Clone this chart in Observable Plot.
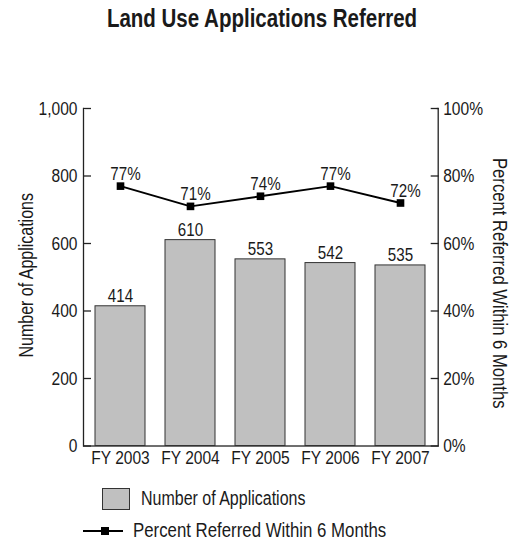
<!DOCTYPE html>
<html>
<head>
<meta charset="utf-8">
<script src="https://cdn.jsdelivr.net/npm/d3@7"></script>
<script src="https://cdn.jsdelivr.net/npm/@observablehq/plot@0.6"></script>
<style>
  html, body { margin: 0; padding: 0; background: #fff; }
  #wrap { position: relative; width: 515px; height: 544px; font-family: "Liberation Sans", Arial, sans-serif; color: #1a1a1a; }
  #title { position: absolute; left: 0; width: 524px; top: 4px; text-align: center; font-weight: bold; font-size: 25px; transform: scaleX(0.82); transform-origin: 262px 0; }
  .leg { position: absolute; font-size: 19.5px; white-space: nowrap; }
  .narrow { transform: scaleX(0.82); transform-origin: 0 0; }
</style>
</head>
<body>
<div id="wrap">
  <div id="title">Land Use Applications Referred</div>
  <div id="chart"></div>
  <div class="leg" style="left:102px; top:488px; width:26px; height:20px; background:#c0c0c0; border:1px solid #333;"></div>
  <div class="leg narrow" style="left:141px; top:487px;">Number of Applications</div>
  <svg class="leg" style="left:80px; top:522px;" width="50" height="20">
    <line x1="3" x2="43" y1="9" y2="9" stroke="#000" stroke-width="2"></line>
    <rect x="21" y="5" width="8" height="8" fill="#000"></rect>
  </svg>
  <div class="leg narrow" style="left:133px; top:518px; font-size:20.5px;">Percent Referred Within 6 Months</div>
</div>
<script>
const years = ["FY 2003", "FY 2004", "FY 2005", "FY 2006", "FY 2007"];
const applications = [414, 610, 553, 542, 535];
const percentReferred = [77, 71, 74, 77, 72];
const leftTicks = [0, 200, 400, 600, 800, 1000];
const rightTicks = [0, 20, 40, 60, 80, 100];

const data = years.map((y, i) => ({year: y, apps: applications[i], pct: percentReferred[i]}));

const chart = Plot.plot({
  width: 515,
  height: 544,
  marginTop: 108,
  marginBottom: 98.5,
  marginLeft: 83,
  marginRight: 77.3,
  style: {fontFamily: '"Liberation Sans", Arial, sans-serif', fontSize: "19px", color: "#1a1a1a", background: "transparent"},
  x: {domain: years, paddingInner: 0.282, paddingOuter: 0.141, label: null},
  y: {domain: [0, 1000], label: null},
  marks: [
    Plot.frame({stroke: "#222", strokeWidth: 1.3}),
    Plot.ruleY([1000], {stroke: "#fff", strokeWidth: 3, insetLeft: 1, insetRight: 1}),
    Plot.barY(data, {x: "year", y: "apps", fill: "#c0c0c0", stroke: "#333", strokeWidth: 1}),
    Plot.text(data, {x: "year", y: "apps", text: d => String(d.apps), lineAnchor: "bottom", dy: -4, fontSize: 18.5, fill: "#1a1a1a"}),
    Plot.line(data, {x: "year", y: d => d.pct * 10, stroke: "#000", strokeWidth: 2}),
    Plot.dot(data, {x: "year", y: d => d.pct * 10, symbol: "square", r: 4.3, fill: "#000", stroke: null}),
    Plot.text(data, {x: "year", y: d => d.pct * 10, text: d => d.pct + "%", lineAnchor: "bottom", dy: -6, dx: 5, fontSize: 18.5, fill: "#1a1a1a"}),
    Plot.axisY({anchor: "left", ticks: leftTicks, tickSize: -8, tickPadding: 14, tickFormat: d3.format(","), stroke: "#222", strokeWidth: 1.3, label: null}),
    Plot.axisY({anchor: "right", ticks: leftTicks, tickSize: -8, tickPadding: 13, tickFormat: d => rightTicks[leftTicks.indexOf(d)] + "%", stroke: "#222", strokeWidth: 1.3, label: null}),
    Plot.axisX({tickSize: 0, tickPadding: 5, label: null}),
    Plot.text(["Number of Applications"], {frameAnchor: "left", textAnchor: "middle", text: d => d, rotate: -90, dx: -57, dy: -2, fontSize: 19.5, fill: "#1a1a1a"}),
    Plot.text(["Percent Referred Within 6 Months"], {frameAnchor: "right", textAnchor: "middle", text: d => d, rotate: 90, dx: 61, dy: 6, fontSize: 20.3, fill: "#1a1a1a"})
  ]
});
// Condense the glyphs horizontally (about each text's own anchor) to imitate a narrow sans face
chart.querySelectorAll("text").forEach(t => {
  const x = parseFloat(t.getAttribute("x")) || 0;
  const tr = t.getAttribute("transform") || "";
  t.setAttribute("transform", `${tr} translate(${x},0) scale(0.82,1) translate(${-x},0)`);
});
document.getElementById("chart").appendChild(chart);
</script>
</body>
</html>
